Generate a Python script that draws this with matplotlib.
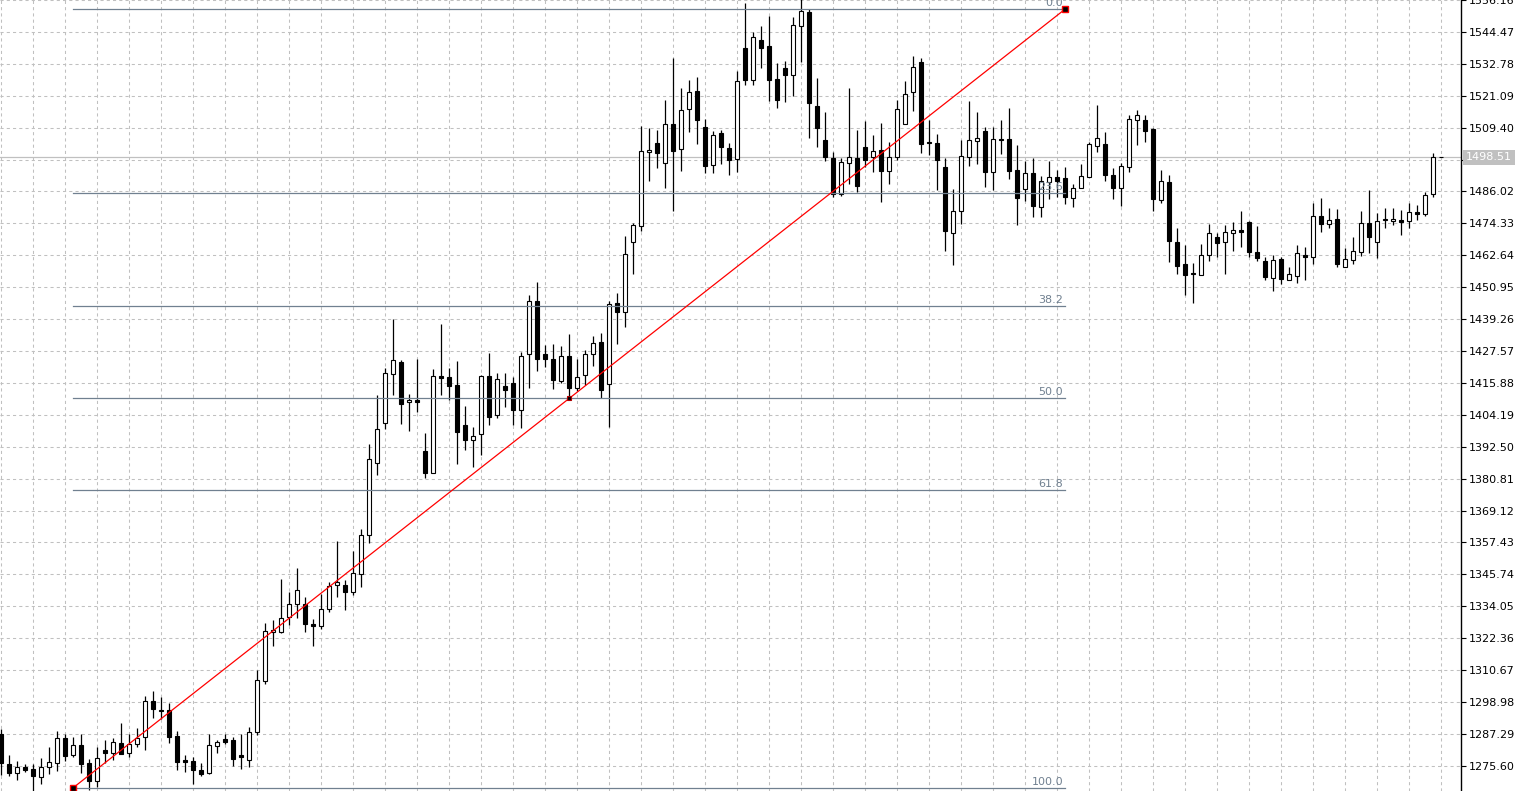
import matplotlib
matplotlib.use('Agg')
import matplotlib.pyplot as plt
import numpy as np

# OHLC bars (oldest first)
opens = [
    1287.4, 1276.1, 1272.8, 1275.1, 1274.3, 1271.6, 1275.0, 1276.5, 1285.6, 1279.6,
    1283.1, 1276.6, 1270.1, 1281.3, 1280.4, 1283.9, 1280.4, 1283.4, 1286.2, 1299.5,
    1296.2, 1296.0, 1286.4, 1277.7, 1277.3, 1274.0, 1272.8, 1282.9, 1285.4, 1285.0,
    1279.5, 1277.7, 1287.9, 1306.6, 1324.5, 1324.6, 1330.0, 1334.9, 1334.9, 1327.4,
    1326.9, 1333.1, 1341.9, 1341.9, 1339.2, 1345.9, 1360.2, 1386.5, 1401.3, 1419.0,
    1423.5, 1408.8, 1409.6, 1391.0, 1383.0, 1418.3, 1417.9, 1415.0, 1400.4, 1394.9,
    1397.1, 1418.3, 1404.0, 1414.7, 1415.7, 1405.8, 1426.3, 1445.7, 1426.3, 1424.8,
    1416.4, 1425.6, 1413.9, 1418.8, 1426.3, 1430.8, 1415.3, 1445.0, 1442.0, 1467.4,
    1473.4, 1500.5, 1503.8, 1496.3, 1510.7, 1501.6, 1516.2, 1522.8, 1509.6, 1495.8,
    1507.4, 1501.9, 1497.9, 1538.6, 1526.7, 1541.5, 1539.4, 1527.3, 1531.3, 1528.5,
    1546.5, 1551.8, 1517.4, 1505.0, 1498.4, 1485.1, 1496.5, 1498.3, 1502.3, 1498.5,
    1501.3, 1493.5, 1498.5, 1510.9, 1522.4, 1533.5, 1504.3, 1503.9, 1494.8, 1470.9,
    1478.9, 1498.7, 1504.5, 1508.2, 1493.0, 1505.4, 1505.4, 1493.9, 1487.0, 1492.7,
    1480.4, 1489.6, 1491.2, 1491.1, 1483.7, 1487.3, 1491.4, 1502.7, 1503.4, 1492.1,
    1487.3, 1494.9, 1512.2, 1512.2, 1508.9, 1482.9, 1489.6, 1467.6, 1459.6, 1456.0,
    1455.5, 1462.9, 1469.4, 1467.4, 1470.8, 1472.0, 1474.8, 1463.7, 1460.4, 1454.3,
    1461.1, 1453.7, 1455.0, 1462.9, 1462.0, 1477.2, 1474.2, 1475.8, 1458.3, 1461.0,
    1463.9, 1474.3, 1467.6, 1475.5, 1475.3, 1475.6, 1475.3, 1478.6, 1477.8, 1485.1,
    1498.51]

highs = [
    1288.9, 1279.5, 1277.3, 1276.2, 1276.2, 1278.3, 1282.4, 1288.3, 1287.3, 1286.2,
    1287.3, 1278.2, 1282.4, 1285.2, 1285.7, 1291.1, 1287.4, 1289.3, 1301.1, 1302.9,
    1300.7, 1298.6, 1288.5, 1279.5, 1278.9, 1276.7, 1287.2, 1285.0, 1287.2, 1286.2,
    1287.4, 1289.7, 1310.6, 1327.9, 1328.9, 1343.9, 1339.4, 1348.2, 1337.6, 1329.5,
    1338.4, 1343.1, 1358.1, 1343.5, 1354.4, 1362.5, 1393.4, 1411.3, 1421.3, 1439.2,
    1424.3, 1411.7, 1424.5, 1397.6, 1420.8, 1437.4, 1421.2, 1423.9, 1407.3, 1399.8,
    1418.8, 1426.8, 1419.6, 1419.6, 1418.0, 1427.1, 1448.0, 1452.7, 1429.7, 1430.2,
    1429.3, 1433.9, 1424.7, 1428.1, 1433.0, 1434.1, 1445.8, 1448.7, 1469.6, 1474.6,
    1510.1, 1509.3, 1508.7, 1519.5, 1535.0, 1523.9, 1526.8, 1527.9, 1512.6, 1508.0,
    1508.5, 1503.8, 1530.3, 1555.1, 1544.5, 1546.7, 1550.3, 1533.1, 1533.9, 1549.9,
    1556.5, 1553.0, 1527.7, 1515.2, 1500.4, 1498.2, 1524.0, 1508.7, 1511.9, 1506.8,
    1511.2, 1504.3, 1519.6, 1526.6, 1535.7, 1535.0, 1512.2, 1507.2, 1498.2, 1487.0,
    1505.0, 1519.3, 1515.2, 1509.7, 1509.7, 1512.3, 1516.7, 1503.2, 1497.0, 1498.3,
    1491.5, 1497.3, 1493.9, 1495.0, 1488.8, 1496.1, 1504.2, 1517.7, 1507.8, 1494.6,
    1496.6, 1514.0, 1515.8, 1514.2, 1509.4, 1493.9, 1492.1, 1472.7, 1466.3, 1459.9,
    1466.9, 1474.2, 1470.8, 1473.6, 1475.0, 1478.7, 1475.3, 1473.2, 1461.9, 1462.6,
    1461.9, 1458.2, 1466.3, 1465.5, 1481.7, 1483.8, 1479.9, 1479.7, 1465.3, 1469.2,
    1478.7, 1486.6, 1478.1, 1479.9, 1480.1, 1479.3, 1481.7, 1480.9, 1485.7, 1500.2,
    1498.51]

lows = [
    1272.2, 1271.8, 1270.4, 1273.4, 1266.5, 1268.8, 1272.7, 1273.7, 1277.3, 1278.9,
    1272.8, 1266.7, 1267.8, 1276.5, 1277.7, 1279.8, 1278.9, 1282.5, 1281.3, 1293.1,
    1292.9, 1283.8, 1274.0, 1273.2, 1268.9, 1271.8, 1272.5, 1280.4, 1283.4, 1275.5,
    1274.6, 1275.1, 1286.8, 1305.4, 1319.5, 1324.2, 1327.0, 1329.7, 1324.6, 1319.5,
    1325.8, 1331.9, 1337.4, 1332.6, 1338.0, 1341.0, 1357.1, 1382.1, 1399.1, 1411.4,
    1401.0, 1398.4, 1405.3, 1381.2, 1382.7, 1411.4, 1409.7, 1386.3, 1391.4, 1385.2,
    1389.5, 1400.5, 1402.9, 1407.2, 1400.5, 1399.5, 1414.1, 1420.1, 1421.7, 1413.7,
    1415.8, 1410.2, 1412.9, 1415.1, 1422.0, 1410.4, 1399.9, 1430.0, 1436.4, 1455.8,
    1471.6, 1489.8, 1494.5, 1487.2, 1478.9, 1493.4, 1507.8, 1503.3, 1492.7, 1492.7,
    1496.1, 1491.9, 1493.0, 1525.0, 1525.2, 1531.4, 1519.3, 1516.7, 1518.9, 1521.1,
    1533.5, 1505.7, 1502.2, 1497.0, 1483.9, 1484.5, 1488.7, 1485.7, 1494.9, 1493.0,
    1482.1, 1488.7, 1497.7, 1510.6, 1515.5, 1500.0, 1499.5, 1486.4, 1464.3, 1458.9,
    1474.0, 1495.2, 1496.1, 1487.6, 1486.4, 1499.6, 1490.5, 1473.8, 1482.6, 1476.6,
    1476.6, 1483.2, 1484.1, 1481.4, 1480.3, 1487.2, 1491.2, 1500.6, 1489.9, 1483.2,
    1480.6, 1493.2, 1502.9, 1504.0, 1478.9, 1481.7, 1460.2, 1455.8, 1447.9, 1445.2,
    1455.5, 1460.7, 1462.0, 1455.8, 1464.3, 1465.5, 1461.9, 1460.7, 1453.7, 1449.6,
    1452.1, 1453.7, 1452.6, 1453.6, 1459.4, 1471.1, 1472.6, 1458.2, 1458.2, 1459.4,
    1462.2, 1463.4, 1461.6, 1472.6, 1473.8, 1470.0, 1472.8, 1475.5, 1477.2, 1484.1,
    1498.51]

closes = [
    1276.5, 1273.0, 1275.0, 1274.1, 1272.0, 1275.0, 1276.9, 1285.6, 1279.3, 1283.1,
    1276.3, 1270.0, 1278.3, 1280.4, 1284.2, 1280.0, 1283.5, 1285.6, 1299.5, 1296.4,
    1295.7, 1286.2, 1277.1, 1277.1, 1274.0, 1272.7, 1283.1, 1284.2, 1284.4, 1278.2,
    1278.9, 1287.8, 1306.9, 1324.8, 1325.2, 1329.8, 1334.9, 1340.1, 1327.6, 1326.7,
    1333.1, 1341.5, 1343.0, 1339.2, 1346.3, 1360.2, 1387.9, 1398.9, 1419.4, 1424.1,
    1408.3, 1409.6, 1408.8, 1382.7, 1418.3, 1417.8, 1414.8, 1398.0, 1395.1, 1396.3,
    1418.3, 1403.2, 1417.2, 1413.2, 1405.8, 1425.9, 1445.7, 1424.7, 1424.5, 1417.0,
    1425.6, 1414.1, 1417.9, 1426.3, 1430.4, 1413.2, 1444.6, 1442.0, 1463.2, 1473.9,
    1500.8, 1501.2, 1500.0, 1510.7, 1500.8, 1515.8, 1522.4, 1512.2, 1495.2, 1506.7,
    1502.3, 1497.4, 1526.4, 1526.7, 1542.6, 1538.4, 1526.9, 1519.7, 1528.5, 1546.9,
    1552.0, 1518.6, 1509.4, 1498.5, 1485.1, 1496.8, 1498.7, 1487.9, 1497.7, 1500.8,
    1493.4, 1498.7, 1516.2, 1521.7, 1531.6, 1503.3, 1503.6, 1497.6, 1471.7, 1478.9,
    1499.0, 1504.9, 1505.7, 1493.0, 1505.3, 1505.0, 1493.5, 1483.8, 1492.8, 1480.6,
    1489.9, 1491.2, 1489.9, 1483.9, 1487.3, 1491.7, 1503.4, 1505.6, 1491.9, 1487.2,
    1495.2, 1512.6, 1514.0, 1508.2, 1483.2, 1489.9, 1467.8, 1458.8, 1455.5, 1455.7,
    1462.9, 1470.9, 1467.1, 1471.0, 1472.0, 1471.1, 1463.8, 1461.6, 1454.7, 1461.0,
    1453.9, 1455.9, 1463.6, 1462.0, 1477.2, 1474.0, 1475.6, 1459.4, 1461.4, 1464.1,
    1474.3, 1469.3, 1475.3, 1475.8, 1476.0, 1474.9, 1478.6, 1477.8, 1484.9, 1498.51,
    1498.51]

# price scale labels
price_ticks = [1275.60, 1287.29, 1298.98, 1310.67, 1322.36, 1334.05, 1345.74,
               1357.43, 1369.12, 1380.81, 1392.50, 1404.19, 1415.88, 1427.57,
               1439.26, 1450.95, 1462.64, 1474.33, 1486.02, 1497.71, 1509.40,
               1521.09, 1532.78, 1544.47, 1556.16]
last_price = 1498.51

# fibonacci retracement: anchored from bar 9 (low) to bar 133 (high)
fib_start_bar, fib_low = 9, 1267.58
fib_end_bar, fib_high = 133, 1552.87
fib_levels = [0.0, 23.6, 38.2, 50.0, 61.8, 100.0]

o = np.array(opens)
h = np.array(highs)
l = np.array(lows)
c = np.array(closes)
x = np.arange(len(o))

fig = plt.figure(figsize=(15.23, 7.91), dpi=100)
ax = fig.add_axes([0, 0, 1461 / 1523, 1])

grid_col = '#c0c0c0'
fib_col = '#708090'

# last price line
ax.axhline(last_price, color=grid_col, lw=0.9, zorder=1)

# candles
ax.vlines(x, l, h, color='black', lw=0.9, zorder=2)
up = c >= o
body_bot = np.minimum(o, c)
body_h = np.abs(c - o)
ax.bar(x[up], body_h[up], bottom=body_bot[up], width=0.5,
       facecolor='white', edgecolor='black', linewidth=0.8, zorder=3)
ax.bar(x[~up], body_h[~up], bottom=body_bot[~up], width=0.5,
       facecolor='black', edgecolor='black', linewidth=0.8, zorder=3)

# fibo levels
for lev in fib_levels:
    price = fib_high - lev / 100 * (fib_high - fib_low)
    ax.plot([fib_start_bar, fib_end_bar], [price, price], color=fib_col, lw=0.9, zorder=4)
    ax.annotate('%.1f' % lev, xy=(fib_end_bar, price), xytext=(-2, 1),
                textcoords='offset pixels', ha='right', va='bottom',
                color=fib_col, fontsize=8, zorder=4, annotation_clip=False)

# trend line of the fibo
ax.plot([fib_start_bar, fib_end_bar], [fib_low, fib_high], color='red', lw=0.9, zorder=5)
ax.plot([fib_start_bar, fib_end_bar], [fib_low, fib_high], ls='none', marker='s',
        markersize=4.5, mfc='black', mec='red', mew=1, zorder=6, clip_on=False)
ax.plot([(fib_start_bar + fib_end_bar) / 2], [(fib_low + fib_high) / 2], ls='none',
        marker='s', markersize=3, mfc='black', mec='#b00000', mew=0.8, zorder=6)

ax.set_xlim(-0.16, 182.46)
ax.set_ylim(1266.36, 1555.43)

ax.set_xticks(np.arange(0, 181, 4))
ax.tick_params(axis='x', length=0, labelbottom=False)
ax.yaxis.tick_right()
ax.set_yticks(price_ticks)
ax.set_yticklabels(['' if abs(p - 1497.71) < 0.01 else '%.2f' % p for p in price_ticks])
ax.tick_params(axis='y', direction='out', length=3.5, width=0.8, pad=2,
               labelsize=8, colors='black')
ax.grid(True, color=grid_col, linestyle=(0, (3, 3)), linewidth=0.75)
ax.set_axisbelow(True)

for side in ['top', 'left', 'bottom']:
    ax.spines[side].set_visible(False)
ax.spines['right'].set_color('black')
ax.spines['right'].set_linewidth(1)

ax.annotate('%.2f' % last_price, xy=(1, last_price), xycoords=('axes fraction', 'data'),
            xytext=(5, 0), textcoords='offset pixels', ha='left', va='center',
            color='white', fontsize=8, annotation_clip=False,
            bbox=dict(boxstyle='square,pad=0.25', fc=grid_col, ec='none'))

fig.savefig('out.png', dpi=100)
